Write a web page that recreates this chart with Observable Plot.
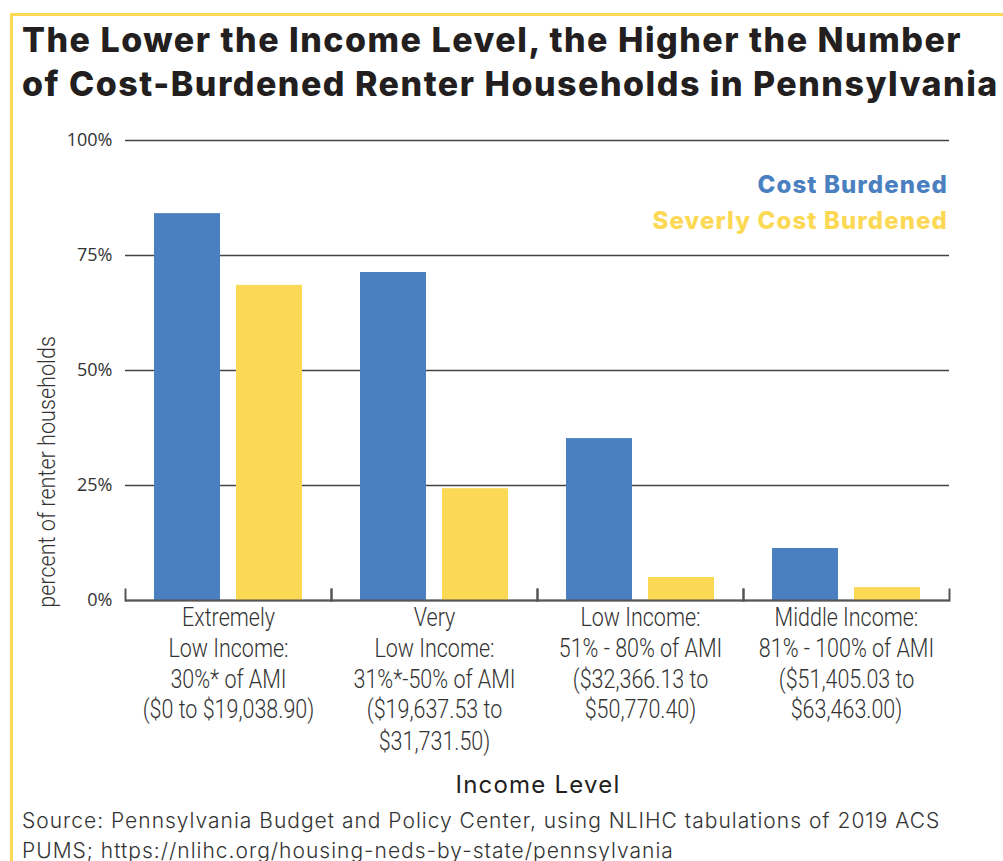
<!DOCTYPE html>
<html>
<head>
<meta charset="utf-8">
<script src="https://cdn.jsdelivr.net/npm/d3@7"></script>
<script src="https://cdn.jsdelivr.net/npm/@observablehq/plot@0.6"></script>
<style>
  html, body { margin: 0; padding: 0; background: #fff; }
  body { width: 1003px; height: 861px; position: relative; overflow: hidden; }
  .frame { position: absolute; left: 10px; top: 13px; width: 1100px; height: 1000px;
           border-left: 3px solid #fcd955; border-top: 3px solid #fcd955; }
  .title { position: absolute; left: 22px; top: 18px; font-family: Inter, Lato, sans-serif; font-weight: 800;
           font-size: 34px; line-height: 44px; color: #231f20; white-space: nowrap; letter-spacing: 1.5px; }
  .legend { position: absolute; right: 55px; top: 167px; text-align: right; font-family: Inter, Lato, sans-serif;
            font-weight: 800; font-size: 24px; line-height: 36px; white-space: nowrap; letter-spacing: 1.1px; }
  .ylabel { position: absolute; left: 47px; top: 472px; transform: translate(-50%, -50%) rotate(-90deg) scaleX(0.9);
            font-family: Roboto, sans-serif; font-weight: 300; font-size: 24px;
            color: #333; white-space: nowrap; }
  .xlabel { position: absolute; left: 538px; top: 770px; transform: translateX(-50%); font-family: Inter, Lato, sans-serif;
            font-size: 24px; color: #231f20; white-space: nowrap; letter-spacing: 1.2px; }
  .caption { position: absolute; left: 22px; top: 806px; font-family: Inter, Lato, sans-serif; font-weight: 300;
             font-size: 21px; line-height: 30px; color: #333; white-space: nowrap; letter-spacing: 1px; }
  #chart { position: absolute; left: 0; top: 115px; }
</style>
</head>
<body>
<div class="frame"></div>
<div class="title">The Lower the Income Level, the Higher the Number<br>of Cost-Burdened Renter Households in Pennsylvania</div>
<div id="chart"></div>
<div class="legend" id="legend"></div>
<div class="ylabel">percent of renter households</div>
<div class="xlabel">Income Level</div>
<div class="caption">Source: Pennsylvania Budget and Policy Center, using NLIHC tabulations of 2019 ACS<br>PUMS; https://nlihc.org/housing-neds-by-state/pennsylvania</div>
<script>
const groups = ["Extremely Low", "Very Low", "Low", "Middle"];
const groupLabels = [
  "Extremely\nLow Income:\n30%* of AMI\n($0 to $19,038.90)",
  "Very\nLow Income:\n31%*-50% of AMI\n($19,637.53 to\n$31,731.50)",
  "Low Income:\n51% - 80% of AMI\n($32,366.13 to\n$50,770.40)",
  "Middle Income:\n81% - 100% of AMI\n($51,405.03 to\n$63,463.00)"
];
const series = ["Cost Burdened", "Severly Cost Burdened"];
const costBurdened = [84.1, 71.3, 35.2, 11.3];
const severelyCostBurdened = [68.5, 24.3, 5.0, 2.8];
const yTicks = [0, 25, 50, 75, 100];
const colors = ["#4a80bf", "#fcd955"];

const data = [];
groups.forEach((g, i) => {
  data.push({group: g, series: series[0], value: costBurdened[i]});
  data.push({group: g, series: series[1], value: severelyCostBurdened[i]});
});
const labelOf = new Map(groups.map((g, i) => [g, groupLabels[i]]));

const chart = Plot.plot({
  width: 1003,
  height: 650,
  marginTop: 25,
  marginBottom: 165,
  marginLeft: 124,
  marginRight: 53,
  style: {background: "transparent", overflow: "visible"},
  fx: {domain: groups, padding: 0},
  x: {domain: series, paddingInner: 0.19, paddingOuter: 0.345, axis: null},
  y: {domain: [0, 100]},
  color: {domain: series, range: colors},
  marks: [
    Plot.gridY(yTicks, {stroke: "#444", strokeOpacity: 1, strokeWidth: 1.3}),
    Plot.barY(data, {fx: "group", x: "series", y: "value", fill: "series"}),
    Plot.ruleY([0], {stroke: "#555", strokeWidth: 2}),
    Plot.frame({anchor: "left", insetTop: 449, stroke: "#555", strokeWidth: 2}),
    Plot.frame({anchor: "right", insetTop: 449, stroke: "#555", strokeWidth: 2}),
    Plot.axisY({ticks: yTicks, tickFormat: d => d + "%", tickSize: 0, tickPadding: 13, label: null,
                fontFamily: "'Open Sans', sans-serif", fontSize: 18, fill: "#333"}),
    Plot.axisFx({anchor: "bottom", tickSize: 0, tickPadding: 3, label: null, tickFormat: d => labelOf.get(d),
                 lineHeight: 1.24, fontFamily: "Roboto, sans-serif", fontWeight: 300, fontSize: 25,
                 fill: "#333", lineAnchor: "top"})
  ]
});
document.getElementById("chart").appendChild(chart);

// condense the income-level tick labels horizontally (narrow typeface look)
chart.querySelectorAll('g[aria-label="fx-axis tick label"] text').forEach(t => {
  const b = t.getBBox();
  const cx = b.x + b.width / 2;
  const tr = t.getAttribute("transform") || "";
  t.setAttribute("transform", `${tr} translate(${cx},0) scale(0.86,1) translate(${-cx},0)`);
});

const legend = document.getElementById("legend");
series.forEach((s, i) => {
  const d = document.createElement("div");
  d.textContent = s;
  d.style.color = colors[i];
  legend.appendChild(d);
});
</script>
</body>
</html>
